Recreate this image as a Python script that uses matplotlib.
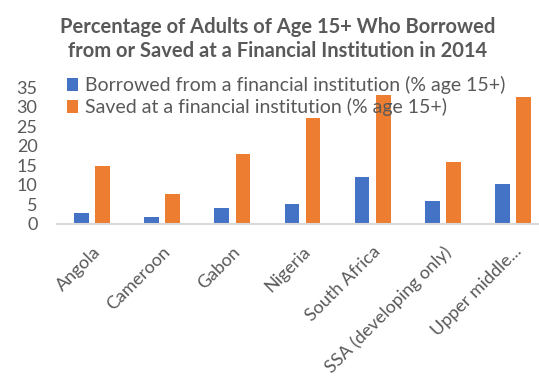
import numpy as np
import matplotlib.pyplot as plt

# Share of adults (age 15+) by country / region, 2014
countries = ["Angola", "Cameroon", "Gabon", "Nigeria", "South Africa",
             "SSA (developing only)", "Upper middle..."]
borrowed = [2.7, 1.9, 4.1, 5.1, 11.9, 6.0, 10.3]
saved = [14.8, 7.7, 18.0, 27.2, 32.9, 15.8, 32.5]
y_ticks = [0, 5, 10, 15, 20, 25, 30, 35]

blue = "#4472C4"
orange = "#ED7D31"
grey = "#595959"

plt.rcParams["font.family"] = ["Lato", "DejaVu Sans"]

fig = plt.figure(figsize=(5.39, 3.81), dpi=100)
ax = fig.add_axes([57 / 539, 1 - 224 / 381, 491 / 539, 137 / 381])

x = np.arange(len(countries))
w = 0.21
ax.bar(x - 0.15, borrowed, w, color=blue,
       label="Borrowed from a financial institution (% age 15+)")
ax.bar(x + 0.15, saved, w, color=orange,
       label="Saved at a financial institution (% age 15+)")

ax.set_xlim(-0.5, len(countries) - 0.5)
ax.set_ylim(0, 35)
ax.set_yticks(y_ticks)
ax.set_xticks(x)
ax.set_xticklabels(countries, rotation=45, ha="right", rotation_mode="anchor")
ax.tick_params(axis="both", length=0, labelcolor=grey, labelsize=13)
ax.tick_params(axis="y", pad=14)
ax.tick_params(axis="x", pad=14)

for side in ["top", "right", "left"]:
    ax.spines[side].set_visible(False)
ax.spines["bottom"].set_color("#d9d9d9")
ax.spines["bottom"].set_linewidth(1.5)

ax.legend(loc="upper left", bbox_to_anchor=(0.005, 1.135), frameon=False,
          fontsize=14, labelcolor=grey, handlelength=0.55, handleheight=0.6,
          handletextpad=0.35, labelspacing=0.2, borderaxespad=0)

fig.text(0.515, 0.955, "Percentage of Adults of Age 15+ Who Borrowed\n"
         "from or Saved at a Financial Institution in 2014",
         ha="center", va="top", fontsize=14.5, fontweight="bold", color=grey,
         linespacing=1.25)

fig.savefig("out.png", dpi=100)
